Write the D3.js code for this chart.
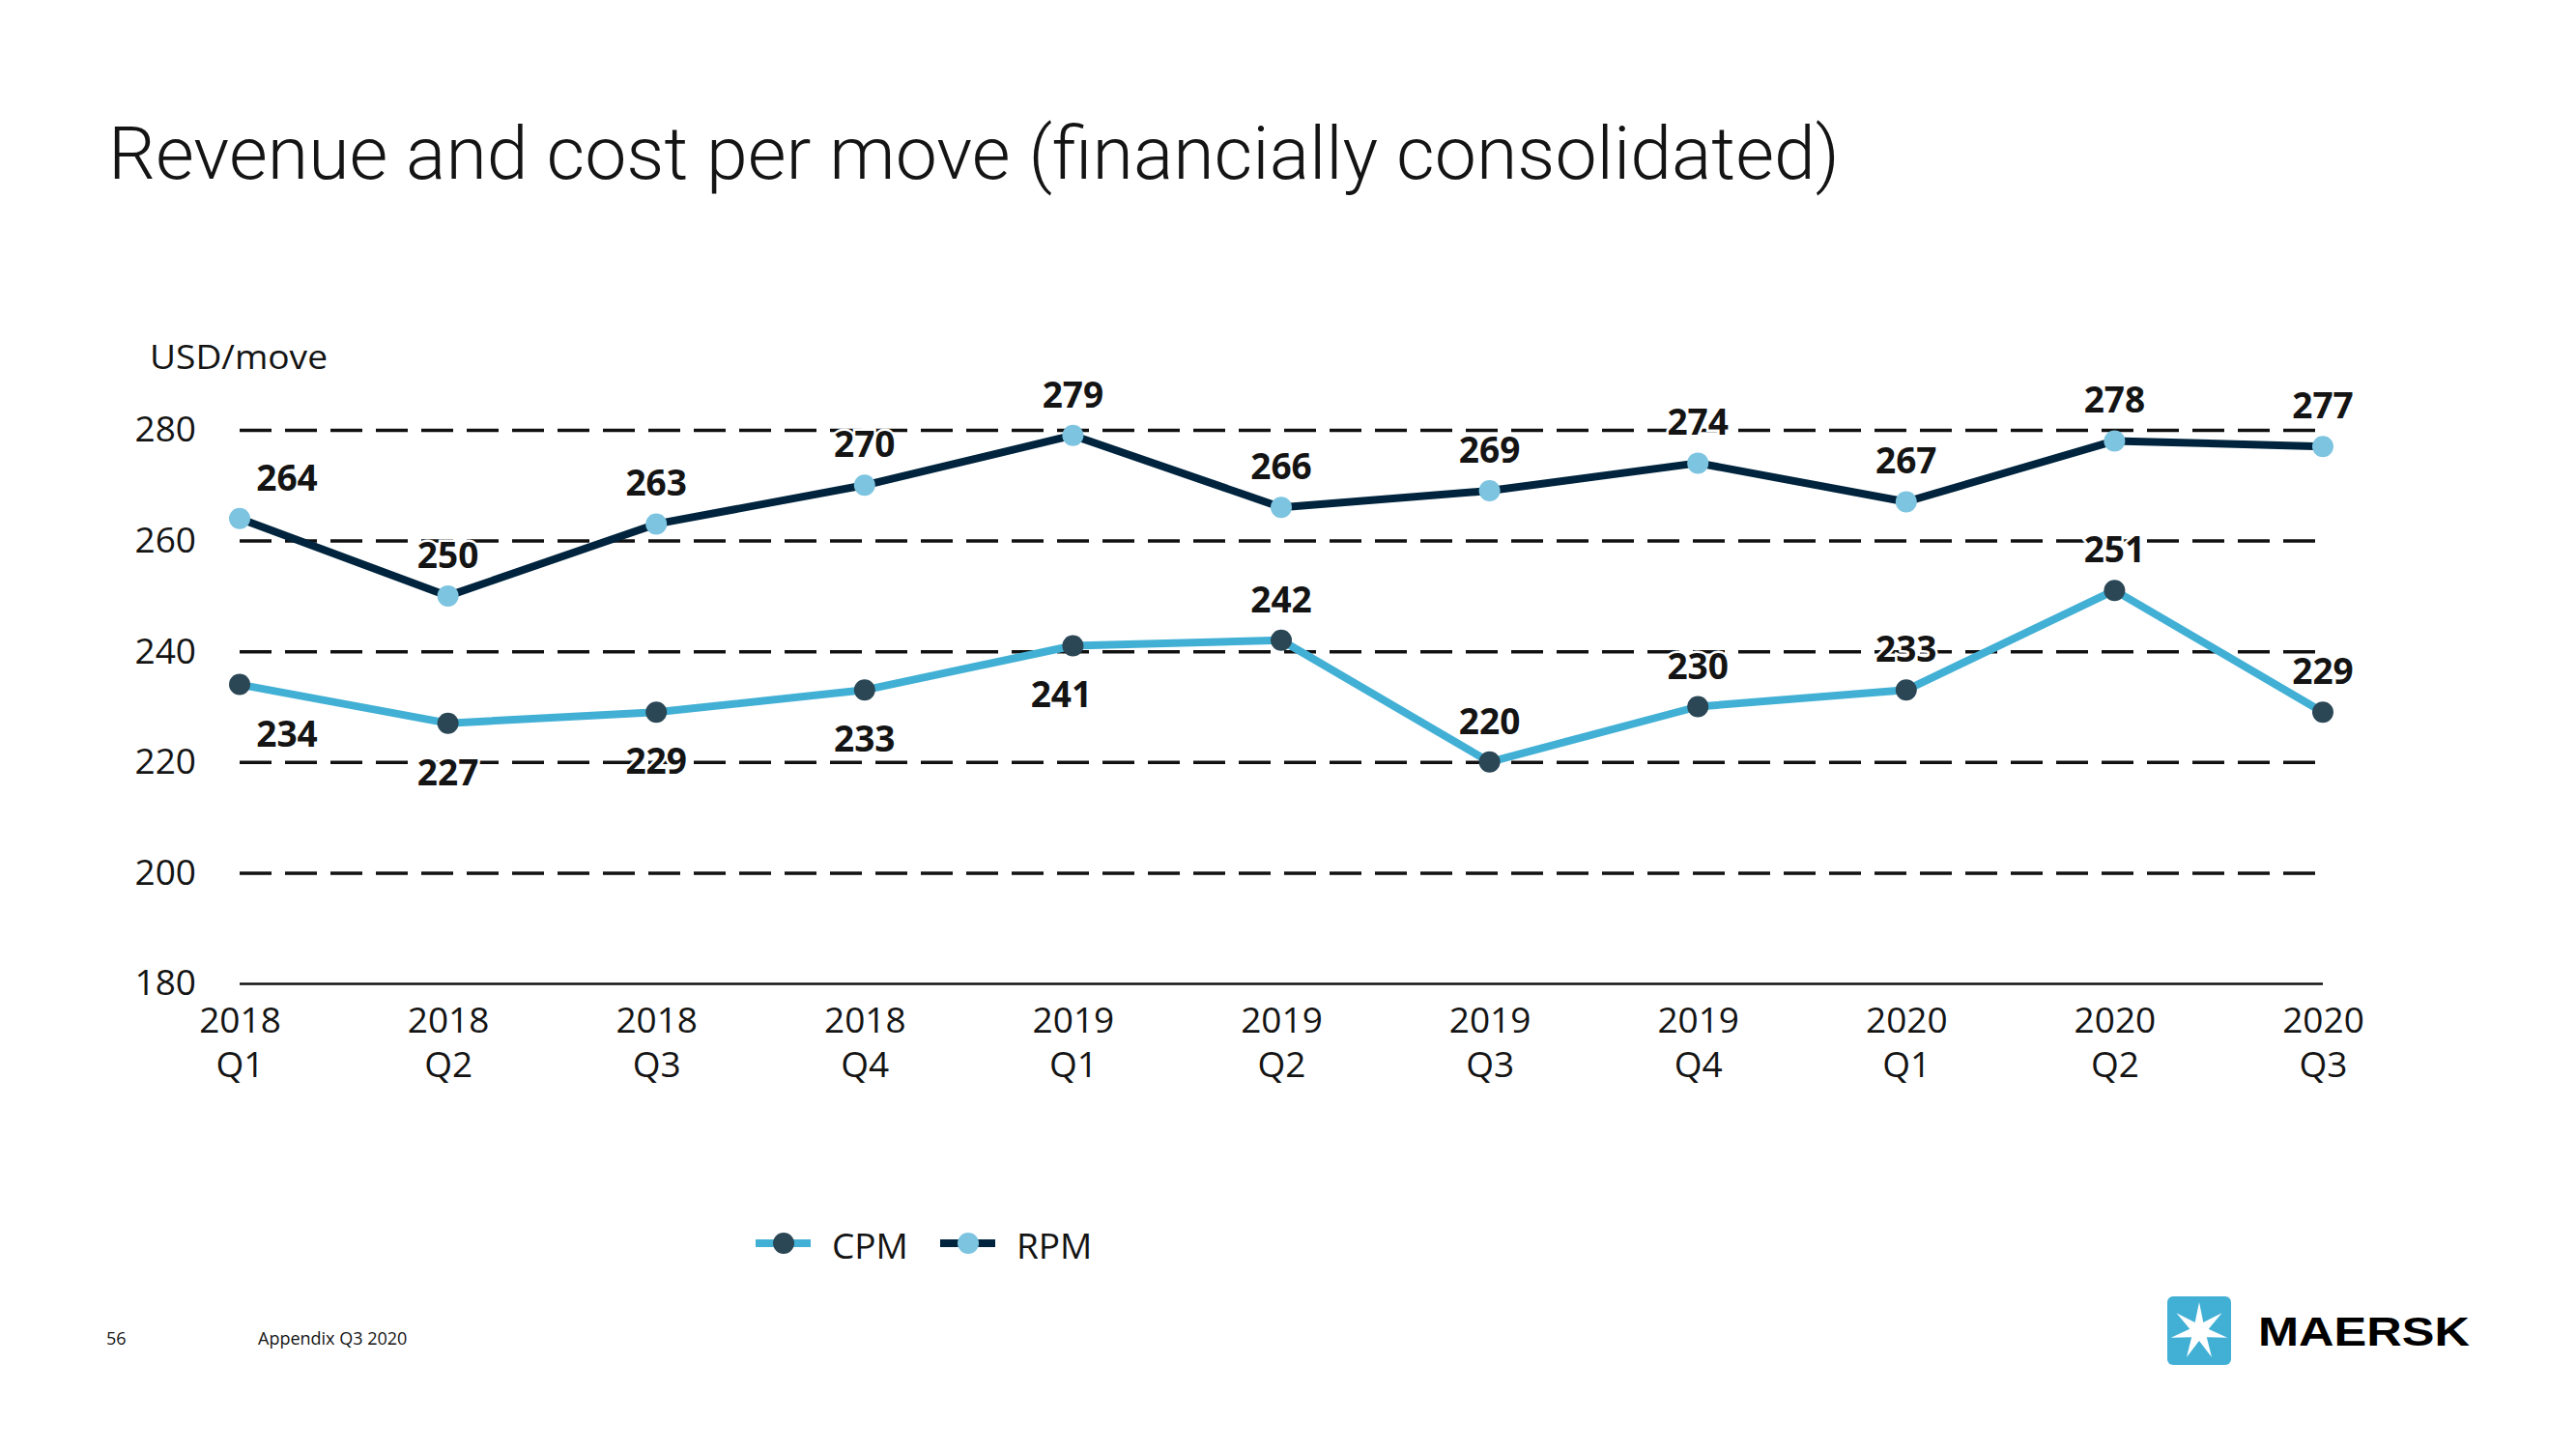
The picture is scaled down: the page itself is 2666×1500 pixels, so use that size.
<!DOCTYPE html>
<html>
<head>
<meta charset="utf-8">
<script src="https://cdn.jsdelivr.net/npm/d3@7/dist/d3.min.js"></script>
<style>
  html, body { margin: 0; padding: 0; background: #ffffff; }
  svg { display: block; }
</style>
</head>
<body>
<svg id="chart" width="2666" height="1500"></svg>
<script>
// ---- data ----
const categories = ["2018 Q1","2018 Q2","2018 Q3","2018 Q4","2019 Q1","2019 Q2","2019 Q3","2019 Q4","2020 Q1","2020 Q2","2020 Q3"];
const rpmValues = [264, 250, 263, 270, 279, 266, 269, 274, 267, 278, 277];
const cpmValues = [234, 227, 229, 233, 241, 242, 220, 230, 233, 251, 229];
const yTicks = [180, 200, 220, 240, 260, 280];
// label side for each point ("above"/"below")
const rpmLabelSide = ["above","above","above","above","above","above","above","above","above","above","above"];
const cpmLabelSide = ["below","below","below","below","below","above","above","above","above","above","above"];

const svg = d3.select("#chart");
const textColor = "#141414";
const rpmLine = "#00243D", rpmDot = "#7DC4E0";
const cpmLine = "#42B0D5", cpmDot = "#2B4756";

const x = d3.scalePoint().domain(categories).range([248, 2404]);
const y = d3.scaleLinear().domain([180, 280]).range([1018, 445]);

// Title
svg.append("text")
  .attr("x", 112).attr("y", 185)
  .attr("font-family", "Roboto, 'Open Sans', sans-serif")
  .attr("font-weight", 300)
  .attr("font-size", 76)
  .attr("fill", textColor)
  .attr("textLength", 1792).attr("lengthAdjust", "spacingAndGlyphs")
  .text("Revenue and cost per move (financially consolidated)");

// Unit label
svg.append("text")
  .attr("x", 155).attr("y", 382)
  .attr("font-family", "'Open Sans', 'Noto Sans', sans-serif")
  .attr("font-size", 35)
  .attr("fill", textColor)
  .attr("textLength", 184).attr("lengthAdjust", "spacingAndGlyphs")
  .text("USD/move");

// Y axis with gridlines
const yAxis = svg.append("g")
  .attr("transform", `translate(${x.range()[0]},0)`)
  .call(d3.axisLeft(y).tickValues(yTicks).tickSize(-(x.range()[1] - x.range()[0])).tickPadding(45));
yAxis.select(".domain").remove();
yAxis.selectAll(".tick line")
  .attr("stroke", "#111")
  .attr("stroke-width", d => d === 180 ? 2.5 : 3.5)
  .attr("stroke-dasharray", d => d === 180 ? null : "33,14");
yAxis.selectAll(".tick text")
  .attr("font-family", "'Open Sans', 'Noto Sans', sans-serif")
  .attr("font-size", 37)
  .attr("fill", textColor);

// X axis labels (two lines)
const xAxis = svg.append("g")
  .attr("transform", `translate(0,${y(180)})`)
  .call(d3.axisBottom(x).tickSize(0).tickFormat(""));
xAxis.select(".domain").remove();
xAxis.selectAll(".tick").each(function(d) {
  const parts = d.split(" ");
  const t = d3.select(this).append("text")
    .attr("text-anchor", "middle")
    .attr("font-family", "'Open Sans', 'Noto Sans', sans-serif")
    .attr("font-size", 37)
    .attr("fill", textColor);
  t.append("tspan").attr("x", 0).attr("y", 51).text(parts[0]);
  t.append("tspan").attr("x", 0).attr("y", 97).text(parts[1]);
});

// Lines
const lineGen = d3.line().x((d, i) => x(categories[i])).y(d => y(d));
svg.append("path").datum(cpmValues)
  .attr("fill", "none").attr("stroke", cpmLine).attr("stroke-width", 8)
  .attr("stroke-linejoin", "round").attr("d", lineGen);
svg.append("path").datum(rpmValues)
  .attr("fill", "none").attr("stroke", rpmLine).attr("stroke-width", 8)
  .attr("stroke-linejoin", "round").attr("d", lineGen);

// Markers
svg.append("g").selectAll("circle").data(cpmValues).join("circle")
  .attr("cx", (d, i) => x(categories[i])).attr("cy", d => y(d)).attr("r", 11)
  .attr("fill", cpmDot);
svg.append("g").selectAll("circle").data(rpmValues).join("circle")
  .attr("cx", (d, i) => x(categories[i])).attr("cy", d => y(d)).attr("r", 11)
  .attr("fill", rpmDot);

// Data labels
function labelDx(i, v, series) {
  if (i === 0) return 49;
  if (series === "cpm" && v === 241) return -12;
  return 0;
}
function addLabels(values, sides, series) {
  svg.append("g").selectAll("text").data(values).join("text")
    .attr("x", (d, i) => x(categories[i]) + labelDx(i, d, series))
    .attr("y", (d, i) => sides[i] === "above" ? y(d) - 29 : y(d) + 64)
    .attr("text-anchor", "middle")
    .attr("font-family", "'Open Sans', 'Noto Sans', sans-serif")
    .attr("font-weight", 700)
    .attr("font-size", 37)
    .attr("fill", textColor)
    .attr("stroke", "#ffffff").attr("stroke-width", 5)
    .attr("paint-order", "stroke")
    .text(d => d);
}
addLabels(rpmValues, rpmLabelSide, "rpm");
addLabels(cpmValues, cpmLabelSide, "cpm");

// Legend
const legend = [
  { name: "CPM", line: cpmLine, dot: cpmDot, x0: 782 },
  { name: "RPM", line: rpmLine, dot: rpmDot, x0: 973 }
];
const lg = svg.append("g").selectAll("g").data(legend).join("g")
  .attr("transform", d => `translate(${d.x0},1287)`);
lg.append("line").attr("x1", 0).attr("x2", 57).attr("y1", 0).attr("y2", 0)
  .attr("stroke", d => d.line).attr("stroke-width", 8);
lg.append("circle").attr("cx", 29).attr("cy", 0).attr("r", 11).attr("fill", d => d.dot);
lg.append("text").attr("x", 79).attr("y", 16)
  .attr("font-family", "'Open Sans', 'Noto Sans', sans-serif")
  .attr("font-size", 37).attr("fill", textColor)
  .text(d => d.name);

// Footer
svg.append("text").attr("x", 110).attr("y", 1392)
  .attr("font-family", "'Open Sans', 'Noto Sans', sans-serif")
  .attr("font-size", 18).attr("fill", textColor).text("56");
svg.append("text").attr("x", 267).attr("y", 1392)
  .attr("font-family", "'Open Sans', 'Noto Sans', sans-serif")
  .attr("font-size", 18).attr("fill", textColor).text("Appendix Q3 2020");

// Maersk logo
const logo = svg.append("g").attr("transform", "translate(2243,1342)");
logo.append("rect").attr("width", 66).attr("height", 71).attr("rx", 6).attr("fill", "#42B0D5");
const cx = 33, cy = 36, ro = 30, ri = 10;
const starPts = d3.range(14).map(k => {
  const a = -Math.PI / 2 + k * Math.PI / 7;
  const r = k % 2 === 0 ? ro : ri;
  return [cx + r * Math.cos(a), cy + r * Math.sin(a)];
});
logo.append("path").attr("d", d3.line()(starPts) + "Z").attr("fill", "#ffffff");
svg.append("text").attr("x", 2337).attr("y", 1393)
  .attr("font-family", "'Liberation Sans', Arial, sans-serif")
  .attr("font-weight", 700).attr("font-size", 43)
  .attr("fill", "#000000")
  .attr("textLength", 219).attr("lengthAdjust", "spacingAndGlyphs")
  .text("MAERSK");
</script>
</body>
</html>
